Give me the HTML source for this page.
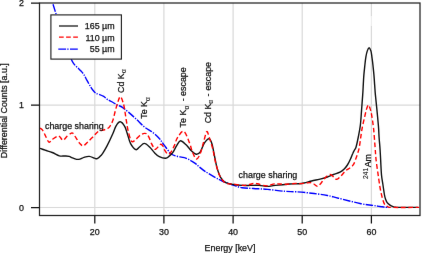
<!DOCTYPE html>
<html><head><meta charset="utf-8"><style>
html,body{margin:0;padding:0;background:#fff;width:422px;height:253px;overflow:hidden;}
svg{display:block;font-family:"Liberation Sans", sans-serif;}
</style></head><body>
<svg width="422" height="253" viewBox="0 0 422 253">
<defs><filter id="bl" filterUnits="userSpaceOnUse" x="0" y="0" width="422" height="253" color-interpolation-filters="sRGB"><feConvolveMatrix order="3" kernelMatrix="0.00163 0.03713 0.00163 0.03713 0.84497 0.03713 0.00163 0.03713 0.00163" edgeMode="duplicate" preserveAlpha="true"/></filter></defs>
<g filter="url(#bl)">
<rect width="422" height="253" fill="#fff"/>
<path d="M94.8,3V215.5 M163.9,3V215.5 M233.1,3V215.5 M302.2,3V215.5 M371.4,3V16.5 M371.4,25.5V215.5 M39.5,207.5H420 M39.5,105.2H420" stroke="#d9d9d9" stroke-width="1.2" fill="none"/>
<path d="M371.4,16.5V25.5" stroke="#eeeeee" stroke-width="1.2" fill="none"/>
<g fill="none" stroke-width="1.4" stroke-linejoin="round">
<path d="M52.6,3.0 C53.2,4.9 54.9,10.2 56.1,14.2 C57.3,18.2 58.5,22.2 60.0,27.0 C61.5,31.8 63.1,37.6 65.0,43.0 C66.9,48.4 69.8,55.8 71.3,59.3 C72.8,62.8 72.9,62.5 73.9,63.9 C74.9,65.3 76.2,66.3 77.4,67.5 C78.6,68.7 79.9,69.8 81.0,71.0 C82.1,72.2 82.9,73.0 83.9,74.6 C84.9,76.2 85.9,78.4 87.0,80.4 C88.1,82.5 89.6,85.1 90.7,86.9 C91.8,88.7 92.7,89.9 93.6,91.0 C94.5,92.1 95.1,92.8 96.0,93.3 C96.9,93.8 97.7,93.8 99.0,94.3 C100.3,94.8 102.3,95.6 103.7,96.4 C105.1,97.2 106.0,98.5 107.3,99.3 C108.6,100.1 109.7,100.6 111.3,101.5 C112.9,102.4 115.1,103.8 116.9,104.8 C118.8,105.8 120.4,106.0 122.4,107.3 C124.4,108.6 126.3,110.4 128.7,112.4 C131.1,114.4 134.0,117.1 136.6,119.5 C139.2,121.9 141.8,124.8 144.5,127.0 C147.2,129.2 150.4,130.6 152.9,132.5 C155.4,134.4 157.5,136.4 159.3,138.5 C161.2,140.6 162.1,142.3 164.0,144.8 C165.9,147.3 168.5,151.4 170.5,153.3 C172.5,155.2 173.8,155.4 176.1,156.1 C178.4,156.8 182.1,156.9 184.5,157.7 C186.9,158.4 189.0,159.6 190.8,160.6 C192.7,161.6 194.1,162.5 195.6,163.6 C197.1,164.7 198.0,165.8 199.6,167.1 C201.2,168.4 202.4,169.6 205.0,171.3 C207.6,173.0 212.1,175.8 215.0,177.4 C217.9,179.0 219.3,179.8 222.2,181.0 C225.0,182.2 228.8,183.7 232.1,184.8 C235.4,185.9 238.5,187.1 242.1,187.7 C245.7,188.3 249.1,188.2 253.4,188.5 C257.7,188.8 262.4,188.9 267.7,189.4 C273.0,189.9 280.3,190.9 285.0,191.3 C289.7,191.7 291.4,191.5 295.8,191.8 C300.2,192.1 306.3,192.6 311.6,193.2 C316.9,193.8 322.9,194.7 327.4,195.5 C331.9,196.3 333.0,196.9 338.4,198.2 C343.8,199.5 354.3,202.3 360.0,203.5 C365.7,204.7 369.3,204.9 372.6,205.4 C375.9,205.9 377.8,206.2 380.0,206.5 C382.2,206.8 384.5,207.2 386.0,207.3 C387.5,207.5 388.5,207.4 389.0,207.4" stroke="#0000ff" stroke-dasharray="7.6 1.3 1.3 1.3" stroke-dashoffset="10"/>
<path d="M40.0,148.4 C40.9,148.7 43.1,149.5 45.1,150.2 C47.1,150.9 49.8,151.6 52.2,152.5 C54.6,153.4 57.2,155.2 59.3,155.8 C61.4,156.4 63.0,155.9 64.6,156.0 C66.2,156.1 67.6,156.0 69.1,156.4 C70.5,156.8 71.7,157.7 73.3,158.2 C74.9,158.7 76.9,159.6 78.7,159.4 C80.5,159.2 82.2,157.8 84.0,157.3 C85.8,156.8 87.5,156.2 89.3,156.4 C91.1,156.6 93.3,157.8 94.6,158.2 C95.9,158.6 96.2,159.1 97.3,158.7 C98.3,158.2 100.0,156.5 100.9,155.5 C101.9,154.5 102.0,154.5 103.0,152.9 C104.0,151.3 105.2,149.3 106.9,146.1 C108.6,142.9 111.4,136.9 112.9,133.5 C114.4,130.1 114.9,127.8 116.1,125.8 C117.3,123.8 118.8,121.7 120.2,121.8 C121.7,121.9 123.7,124.7 124.8,126.6 C125.9,128.5 126.1,130.2 127.1,133.0 C128.1,135.8 129.1,140.9 130.6,143.7 C132.1,146.5 134.3,149.0 135.8,149.6 C137.3,150.2 138.1,148.0 139.5,147.0 C140.9,146.0 142.6,143.4 144.3,143.4 C146.0,143.4 148.1,145.6 149.8,147.2 C151.5,148.8 152.9,151.1 154.5,152.7 C156.1,154.3 157.5,155.8 159.3,156.7 C161.2,157.6 163.9,158.4 165.6,158.3 C167.3,158.2 168.3,156.8 169.5,155.9 C170.7,155.0 171.5,154.4 172.7,152.7 C173.9,151.0 175.4,147.6 176.7,145.6 C178.0,143.6 178.9,140.9 180.5,140.8 C182.1,140.7 184.2,143.1 186.1,144.8 C187.9,146.5 189.9,149.5 191.6,151.1 C193.3,152.7 194.9,154.2 196.4,154.3 C197.9,154.4 199.0,153.8 200.3,151.9 C201.6,150.1 202.8,145.4 204.3,143.2 C205.8,141.0 207.8,138.7 209.1,138.8 C210.4,138.9 211.1,141.1 212.0,144.0 C212.9,146.9 213.7,152.0 214.5,156.0 C215.3,160.0 216.0,164.3 217.0,167.9 C218.0,171.5 219.2,175.0 220.6,177.4 C222.0,179.8 223.0,181.1 225.2,182.3 C227.3,183.5 230.7,184.0 233.5,184.5 C236.3,185.0 239.2,185.2 242.1,185.4 C244.9,185.6 247.8,185.4 250.6,185.4 C253.4,185.4 256.2,185.2 259.1,185.4 C262.0,185.6 265.3,186.4 267.7,186.4 C270.1,186.4 270.4,185.9 273.3,185.6 C276.2,185.3 282.3,184.8 285.0,184.5 C287.7,184.2 287.2,184.1 289.5,184.0 C291.8,183.9 296.5,183.9 298.9,183.7 C301.3,183.5 301.9,183.4 304.0,183.0 C306.1,182.6 308.8,181.7 311.6,181.0 C314.4,180.3 318.4,179.6 321.0,178.9 C323.6,178.2 325.3,177.7 327.4,177.0 C329.5,176.3 331.4,175.3 333.5,174.5 C335.6,173.7 338.2,173.1 340.0,172.2 C341.8,171.3 343.0,170.2 344.2,169.0 C345.4,167.8 346.3,166.7 347.4,165.0 C348.5,163.3 349.7,160.7 350.6,158.7 C351.5,156.7 352.2,154.6 352.9,153.2 C353.5,151.8 354.0,151.0 354.5,150.0 C355.0,149.0 355.4,149.4 356.0,147.3 C356.6,145.2 357.5,141.1 358.2,137.5 C358.9,133.9 359.7,130.2 360.3,125.6 C360.9,120.9 361.2,114.7 361.6,109.6 C362.0,104.5 362.4,99.1 362.7,94.9 C363.0,90.7 363.1,87.8 363.3,84.4 C363.5,81.0 363.6,77.9 363.9,74.6 C364.2,71.3 364.6,67.7 364.9,64.7 C365.2,61.7 365.5,59.1 365.9,56.8 C366.3,54.5 366.8,52.4 367.3,50.9 C367.8,49.4 368.5,47.7 369.1,47.7 C369.7,47.7 370.4,49.4 370.9,50.9 C371.4,52.4 371.6,54.5 371.9,56.8 C372.2,59.1 372.6,61.7 372.9,64.7 C373.2,67.7 373.6,71.3 373.9,74.6 C374.2,77.9 374.4,81.0 374.6,84.4 C374.9,87.8 375.0,90.7 375.4,94.9 C375.8,99.1 376.4,104.5 376.9,109.6 C377.4,114.7 378.0,120.9 378.4,125.6 C378.8,130.2 378.8,133.4 379.1,137.5 C379.4,141.6 379.8,145.4 380.1,150.0 C380.4,154.6 380.7,160.8 380.9,165.0 C381.1,169.2 381.2,171.8 381.5,175.0 C381.8,178.2 382.4,181.3 382.9,184.5 C383.4,187.7 383.9,191.6 384.3,194.0 C384.7,196.4 385.0,197.6 385.5,199.0 C386.0,200.4 386.4,201.6 387.2,202.6 C387.9,203.6 389.0,204.4 390.0,205.1 C391.0,205.8 392.0,206.2 393.0,206.6 C394.0,207.0 394.8,207.2 396.0,207.3 C397.2,207.4 396.3,207.4 400.0,207.4 C403.7,207.4 415.0,207.4 418.0,207.4" stroke="#111"/>
<path d="M40.0,128.0 C40.4,128.3 41.5,128.6 42.4,129.8 C43.2,131.0 44.0,133.0 45.1,135.1 C46.2,137.2 47.8,141.5 49.0,142.2 C50.2,142.9 50.6,140.5 52.2,139.5 C53.8,138.5 56.8,136.0 58.4,136.0 C60.0,136.0 61.1,138.8 62.0,139.5 C62.9,140.2 62.9,140.5 63.8,139.9 C64.7,139.3 66.1,137.1 67.3,136.0 C68.5,134.9 70.0,133.8 70.9,133.3 C71.9,132.9 72.2,132.6 73.0,133.3 C73.8,134.1 74.9,136.2 76.0,137.8 C77.1,139.4 78.3,141.8 79.5,143.1 C80.7,144.4 81.8,146.0 83.1,145.8 C84.4,145.7 85.9,143.7 87.5,142.2 C89.1,140.7 91.1,138.7 92.9,136.9 C94.7,135.1 96.5,132.7 98.2,131.5 C99.9,130.3 101.9,130.4 103.3,130.0 C104.7,129.6 105.5,129.6 106.6,129.0 C107.7,128.4 108.7,128.0 109.7,126.6 C110.8,125.1 112.0,122.9 112.9,120.3 C113.8,117.7 114.5,113.7 115.3,110.8 C116.1,107.9 116.8,105.3 117.6,102.9 C118.4,100.5 119.4,96.6 120.3,96.6 C121.2,96.6 122.5,100.5 123.2,102.9 C124.0,105.3 124.3,107.9 124.8,110.8 C125.3,113.7 125.8,117.1 126.3,120.3 C126.8,123.5 127.2,126.6 127.9,129.8 C128.6,133.0 129.8,137.5 130.6,139.5 C131.3,141.5 131.6,141.7 132.4,141.8 C133.2,141.9 134.1,141.0 135.3,140.0 C136.5,139.0 138.4,136.8 139.5,135.8 C140.6,134.8 141.2,134.6 142.0,134.2 C142.8,133.8 143.6,133.4 144.4,133.4 C145.2,133.4 145.8,133.2 146.6,133.9 C147.4,134.6 148.2,135.8 149.0,137.4 C149.8,139.0 150.6,141.7 151.4,143.4 C152.2,145.1 153.0,146.5 153.7,147.5 C154.4,148.5 154.8,149.5 155.6,149.3 C156.4,149.1 157.6,147.2 158.5,146.4 C159.4,145.6 160.0,144.3 160.8,144.3 C161.6,144.3 162.5,145.4 163.2,146.4 C163.9,147.4 164.0,149.0 164.8,150.3 C165.6,151.6 166.9,154.0 168.0,154.3 C169.1,154.6 170.0,153.4 171.1,151.9 C172.2,150.4 173.2,148.0 174.3,145.6 C175.4,143.2 175.9,140.1 177.5,137.7 C179.1,135.3 181.7,130.5 183.7,131.3 C185.7,132.1 187.9,139.0 189.3,142.4 C190.8,145.8 191.2,149.1 192.4,151.9 C193.6,154.7 195.1,158.7 196.4,159.0 C197.7,159.3 199.1,156.3 200.3,153.5 C201.5,150.7 202.4,146.0 203.5,142.4 C204.6,138.8 205.8,132.6 206.7,131.7 C207.6,130.8 208.1,134.1 209.1,136.9 C210.1,139.8 211.6,144.4 212.7,148.8 C213.8,153.2 214.6,158.7 215.7,163.1 C216.8,167.5 218.2,172.0 219.4,175.0 C220.7,178.0 222.0,179.6 223.2,181.0 C224.4,182.4 225.1,183.0 226.8,183.5 C228.5,184.0 230.5,183.9 233.5,184.2 C236.5,184.5 241.6,185.5 244.9,185.4 C248.2,185.3 251.3,183.8 253.4,183.5 C255.5,183.2 255.6,183.4 257.7,183.8 C259.8,184.2 263.3,185.9 266.2,185.9 C269.1,185.9 271.7,184.2 274.8,183.9 C277.9,183.6 281.5,184.3 285.0,184.2 C288.5,184.1 293.5,183.5 295.8,183.4 C298.1,183.3 297.3,183.6 298.9,183.6 C300.5,183.6 303.6,183.4 305.5,183.2 C307.4,183.0 309.0,182.5 310.4,182.6 C311.8,182.7 312.8,183.4 313.9,184.0 C315.0,184.6 316.1,186.4 317.3,186.3 C318.5,186.2 319.5,184.9 320.8,183.5 C322.1,182.1 323.4,179.5 324.9,178.0 C326.4,176.5 328.4,174.7 329.8,174.5 C331.2,174.3 332.1,175.8 333.2,176.6 C334.3,177.4 335.4,179.5 336.7,179.4 C338.0,179.3 339.4,177.5 340.9,176.0 C342.4,174.5 344.2,172.0 345.8,170.6 C347.4,169.2 349.3,168.5 350.6,167.4 C351.9,166.3 352.8,165.8 353.7,164.2 C354.6,162.6 355.4,159.7 356.1,157.9 C356.8,156.1 357.2,155.0 357.7,153.2 C358.2,151.4 358.6,151.2 359.3,147.3 C360.0,143.4 361.0,134.8 361.9,129.6 C362.8,124.3 364.1,119.3 364.9,115.8 C365.7,112.3 366.1,110.4 366.7,108.6 C367.3,106.8 367.8,104.9 368.4,104.9 C369.0,104.9 369.5,106.8 370.1,108.6 C370.7,110.4 371.2,112.3 371.8,115.8 C372.4,119.3 373.1,124.3 373.7,129.6 C374.2,134.8 374.7,142.6 375.1,147.3 C375.5,152.0 375.5,153.9 375.9,158.0 C376.3,162.1 377.0,167.0 377.7,171.7 C378.4,176.4 379.1,181.9 379.8,186.1 C380.5,190.3 381.3,194.1 382.1,197.1 C382.9,200.1 383.6,202.6 384.5,204.2 C385.4,205.8 386.5,206.1 387.7,206.6 C388.9,207.1 386.4,207.3 391.6,207.4 C396.8,207.5 414.4,207.4 419.0,207.4" stroke="#ff0000" stroke-dasharray="4.7 2.6"/>
</g>
<rect x="39.5" y="3" width="380.5" height="212.5" fill="none" stroke="#222" stroke-width="1.25"/>
<path d="M31,207.5H39.5 M31,105.2H39.5 M31,3H39.5 M94.8,215.5V223.6 M163.9,215.5V223.6 M233.1,215.5V223.6 M302.2,215.5V223.6 M371.4,215.5V223.6" stroke="#111" stroke-width="1.25" fill="none"/>
<g font-family="Liberation Sans, sans-serif" font-size="8.9" fill="#111" stroke="#111" stroke-width="0.25" stroke-linejoin="round">
<text x="23.90" y="210.80" text-anchor="end">0</text>
<text x="23.90" y="108.10" text-anchor="end">1</text>
<text x="23.90" y="6.40" text-anchor="end">2</text>
<text x="94.80" y="235.40" text-anchor="middle">20</text>
<text x="163.95" y="235.40" text-anchor="middle">30</text>
<text x="233.10" y="235.40" text-anchor="middle">40</text>
<text x="302.25" y="235.40" text-anchor="middle">50</text>
<text x="371.40" y="235.40" text-anchor="middle">60</text>
<text x="230.00" y="251.00" text-anchor="middle">Energy [keV]</text>
<text transform="translate(6.70,110.70) rotate(-90)" text-anchor="middle">Differential Counts [a.u.]</text>
<text x="45.00" y="128.60">charge sharing</text>
<text x="238.60" y="178.00">charge sharing</text>
<text transform="translate(123.80,93.00) rotate(-90)">Cd K</text>
<text transform="translate(147.40,118.80) rotate(-90)">Te K</text>
<text transform="translate(186.30,127.40) rotate(-90)">Te K</text>
<text transform="translate(186.30,101.17) rotate(-90)">-</text>
<text transform="translate(186.30,95.90) rotate(-90)">escape</text>
<text transform="translate(211.40,123.30) rotate(-90)">Cd K</text>
<text transform="translate(211.40,96.47) rotate(-90)">-</text>
<text transform="translate(211.40,90.60) rotate(-90)">escape</text>
<text transform="translate(371.30,167.30) rotate(-90)">Am</text>
</g>
<g font-family="Liberation Sans, sans-serif" font-size="8.9" fill="#111" stroke="#111" stroke-width="0.08" stroke-linejoin="round">
<text transform="translate(126.10,73.10) rotate(-90)" font-size="6.6">α</text>
<text transform="translate(149.70,101.00) rotate(-90)" font-size="6.6">α</text>
<text transform="translate(188.50,109.40) rotate(-90)" font-size="6.6">α</text>
<text transform="translate(213.20,103.80) rotate(-90)" font-size="6.6">α</text>
<text transform="translate(367.80,178.90) rotate(-90)" font-size="6.6">241</text>
</g>
<rect x="50.9" y="14.9" width="70.5" height="44.2" fill="#fff" stroke="#222" stroke-width="1.15"/>
<g fill="none" stroke-width="1.25">
<path d="M59,26H78" stroke="#111"/>
<path d="M59,37H78" stroke="#ff0000" stroke-dasharray="4.7 2.4"/>
<path d="M58.3,49H78" stroke="#0000ff" stroke-dasharray="7.8 1.1 1.4 1.4"/>
</g>
<g font-family="Liberation Sans, sans-serif" font-size="8.9" fill="#111" stroke="#111" stroke-width="0.25" stroke-linejoin="round">
<text x="114.60" y="29.40" text-anchor="end">165 µm</text>
<text x="114.60" y="40.80" text-anchor="end">110 µm</text>
<text x="114.60" y="52.20" text-anchor="end">55 µm</text>
</g>
</g>
</svg>
</body></html>
